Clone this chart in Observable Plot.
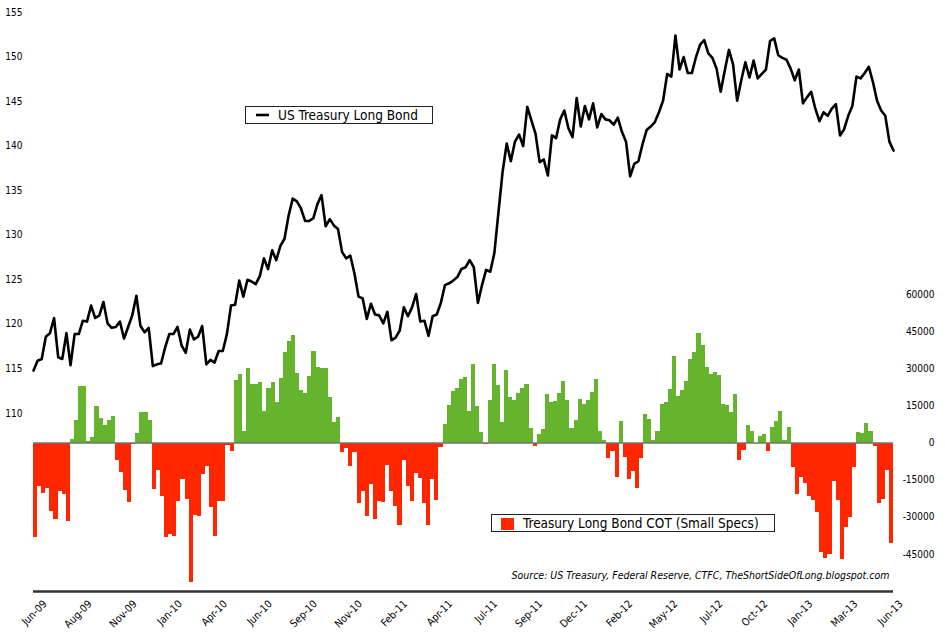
<!DOCTYPE html>
<html>
<head>
<meta charset="utf-8">
<script src="https://cdn.jsdelivr.net/npm/d3@7"></script>
<script src="https://cdn.jsdelivr.net/npm/@observablehq/plot@0.6"></script>
<style>
  html, body { margin: 0; padding: 0; background: #fff; }
  #chart svg { display: block; }
</style>
</head>
<body>
<div id="chart"></div>
<script>
// Weekly US Treasury Long Bond price (left axis), Jun-09 .. Jun-13
const price = [
  114.8,115.9,116.1,118.6,119.0,120.7,116.3,116.1,119.0,115.4,
  118.9,118.9,120.4,120.3,122.1,120.7,121.0,122.5,120.1,119.6,
  119.7,120.3,118.4,119.7,121.0,123.2,119.8,119.1,119.6,115.3,
  115.5,115.6,117.4,118.9,118.9,119.7,117.6,116.8,119.4,118.3,
  118.6,119.8,115.5,116.0,115.7,117.0,117.0,118.9,122.1,122.2,
  124.9,123.1,125.0,124.8,124.5,125.4,127.4,126.2,128.3,127.2,
  128.8,129.6,132.2,134.1,133.8,133.0,131.6,131.6,131.9,133.5,
  134.5,131.0,131.8,131.1,130.7,128.1,127.4,127.7,125.7,123.1,
  122.9,120.6,122.3,121.1,121.0,120.1,121.4,118.2,118.5,119.3,
  121.9,120.9,121.9,123.4,120.3,120.4,118.7,120.9,121.1,122.4,
  124.4,124.6,124.9,125.3,126.2,126.4,127.2,126.4,122.4,124.4,
  126.1,125.9,128.0,132.6,137.1,140.3,138.3,140.5,141.3,140.0,
  144.4,142.9,141.4,138.2,138.5,136.7,141.2,140.9,143.0,144.0,
  142.0,141.0,145.4,142.2,144.5,143.0,144.8,142.1,143.6,143.0,
  142.9,142.4,143.2,141.6,140.5,136.6,138.0,138.3,140.2,141.8,
  142.2,142.7,143.8,145.1,148.1,147.8,152.4,148.6,150.0,148.2,
  148.2,150.0,151.4,151.9,150.4,149.9,148.7,146.1,148.5,150.8,
  149.2,145.1,147.4,149.4,147.7,149.6,147.6,148.1,148.6,151.8,
  152.1,150.2,149.9,149.7,148.7,147.4,148.6,144.8,145.5,146.1,
  144.2,142.8,143.8,143.4,144.2,144.7,141.2,141.9,143.4,144.5,
  147.8,147.6,148.2,148.9,147.2,145.1,144.0,143.4,140.5,139.5
];

// Treasury Long Bond COT, small speculators net position (right axis)
const cot = [
  -38100,-17500,-20400,-18400,-27600,-30900,-19700,-20800,-31700,1300,
  9000,22800,22800,500,2100,14700,9800,7000,9300,10600,
  -7200,-12000,-19300,-24100,-700,3800,12300,12300,9000,-18700,
  -11200,-21600,-38100,-37100,-37700,-23600,-14800,-22900,-56300,-29400,
  -29800,-12800,-9500,-26000,-37700,-23600,-23600,-1000,-3400,25200,
  27600,4700,30000,23600,23800,24600,12700,22000,24400,16300,
  26000,36400,41000,43400,28100,21400,20000,26800,37000,30400,
  30000,30000,18300,8200,10200,-3800,-2200,-9400,-4000,-24400,
  -19700,-29700,-16600,-30700,-23700,-24000,-9200,-19700,-25600,-33200,
  -7200,-17500,-23600,-12500,-14200,-24400,-33200,-14800,-23100,-1800,
  7400,15000,20700,22000,25700,26300,12800,31900,14800,4300,
  -500,17100,31900,23200,8300,29200,18300,17100,20200,22000,
  23600,5800,-1400,3600,5400,19500,16300,16600,20200,24700,
  17100,5800,9100,17500,15500,17300,20500,25500,4600,900,
  -6100,-3400,-13900,8700,-5700,-14700,-11500,-18400,-6100,11400,
  9500,1200,4600,15400,16500,21500,35000,18900,21300,24800,
  33700,36600,44200,39500,30600,27700,28600,27400,15400,15000,
  12400,19700,-7000,-3000,6900,4700,0,2800,3600,-3400,
  6100,8700,12800,900,6100,-9700,-20800,-13900,-16300,-21600,
  -23400,-28000,-44200,-46500,-44900,-15600,-23400,-46900,-34200,-30000,
  -9700,4300,3900,7800,4700,-1400,-24400,-22800,-11200,-40800
];

const xTickLabels = ["Jun-09","Aug-09","Nov-09","Jan-10","Apr-10","Jun-10","Sep-10","Nov-10","Feb-11","Apr-11",
                     "Jul-11","Sep-11","Dec-11","Feb-12","May-12","Jul-12","Oct-12","Jan-13","Mar-13","Jun-13"];
const leftTicks = [110,115,120,125,130,135,140,145,150,155];
const rightTicks = [-45000,-30000,-15000,0,15000,30000,45000,60000];

const priceDomain = [90, 155];
const cotDomain = [-60000, 174000];
const labelEvery = 11;

const GREEN = "#66b32e";
const RED = "#ff2600";
const FONT = "'DejaVu Sans Condensed', 'DejaVu Sans', sans-serif";

const n = price.length;
const rows = price.map((p, i) => ({i, price: p, cot: cot[i]}));
// map COT values onto the price axis (secondary axis)
const cotToY = d3.scaleLinear(cotDomain, priceDomain);
const zeroY = cotToY(0);
const slot = (n - 1) / n; // bars occupy n equal slots across the same width

const chart = Plot.plot({
  width: 945,
  height: 634,
  marginLeft: 33,
  marginRight: 52,
  marginTop: 12,
  marginBottom: 43,
  style: {fontFamily: FONT, fontSize: "10px", color: "#000", background: "#fff"},
  x: {domain: [0, n - 1], axis: null},
  y: {domain: priceDomain, axis: null},
  marks: [
    Plot.rect(rows, {filter: d => d.cot >= 0, x1: d => d.i * slot, x2: d => (d.i + 1) * slot,
      y1: zeroY, y2: d => cotToY(d.cot), fill: GREEN, shapeRendering: "crispEdges"}),
    Plot.rect(rows, {filter: d => d.cot < 0, x1: d => d.i * slot, x2: d => (d.i + 1) * slot,
      y1: zeroY, y2: d => cotToY(d.cot), fill: RED, shapeRendering: "crispEdges"}),
    Plot.ruleY([zeroY], {stroke: "#737373", strokeWidth: 1.5}),
    Plot.line(rows, {x: "i", y: "price", stroke: "#000", strokeWidth: 2.6}),
    Plot.ruleY([priceDomain[0]], {stroke: "#333", strokeWidth: 2.5}),
    Plot.text(leftTicks, {y: d => d, text: d => String(d), frameAnchor: "left", textAnchor: "end", dx: -11, fontSize: 10}),
    Plot.text(rightTicks, {y: d => cotToY(d), text: d => String(d), frameAnchor: "right", textAnchor: "end", dx: 41, fontSize: 10}),
    Plot.text(xTickLabels, {x: (d, k) => k * labelEvery * slot, text: d => d, frameAnchor: "bottom",
      rotate: -45, textAnchor: "end", dx: 14, dy: 13, fontSize: 10.5}),
    Plot.text(["Source: US Treasury, Federal Reserve, CTFC, TheShortSideOfLong.blogspot.com"],
      {frameAnchor: "bottom-right", textAnchor: "end", dx: -4, dy: -13, fontStyle: "italic", fontSize: 10.5})
  ]
});

// In-plot legends
const svg = d3.select(chart);
const lg1 = svg.append("g").attr("font-family", FONT).attr("font-size", 13.5).attr("text-anchor", "start");
lg1.append("rect").attr("x", 245.5).attr("y", 106.5).attr("width", 187).attr("height", 17)
  .attr("fill", "#fff").attr("stroke", "#222").attr("stroke-width", 1);
lg1.append("line").attr("x1", 256).attr("x2", 269).attr("y1", 115).attr("y2", 115)
  .attr("stroke", "#000").attr("stroke-width", 2.6);
lg1.append("text").attr("x", 278).attr("y", 115).attr("dy", "0.35em").text("US Treasury Long Bond");

const lg2 = svg.append("g").attr("font-family", FONT).attr("font-size", 13.5).attr("text-anchor", "start");
lg2.append("rect").attr("x", 491.5).attr("y", 514.5).attr("width", 283).attr("height", 17)
  .attr("fill", "#fff").attr("stroke", "#222").attr("stroke-width", 1);
lg2.append("rect").attr("x", 501).attr("y", 518).attr("width", 13).attr("height", 12).attr("fill", RED);
lg2.append("text").attr("x", 523).attr("y", 523).attr("dy", "0.35em").text("Treasury Long Bond COT (Small Specs)");

document.getElementById("chart").appendChild(chart);
</script>
</body>
</html>
